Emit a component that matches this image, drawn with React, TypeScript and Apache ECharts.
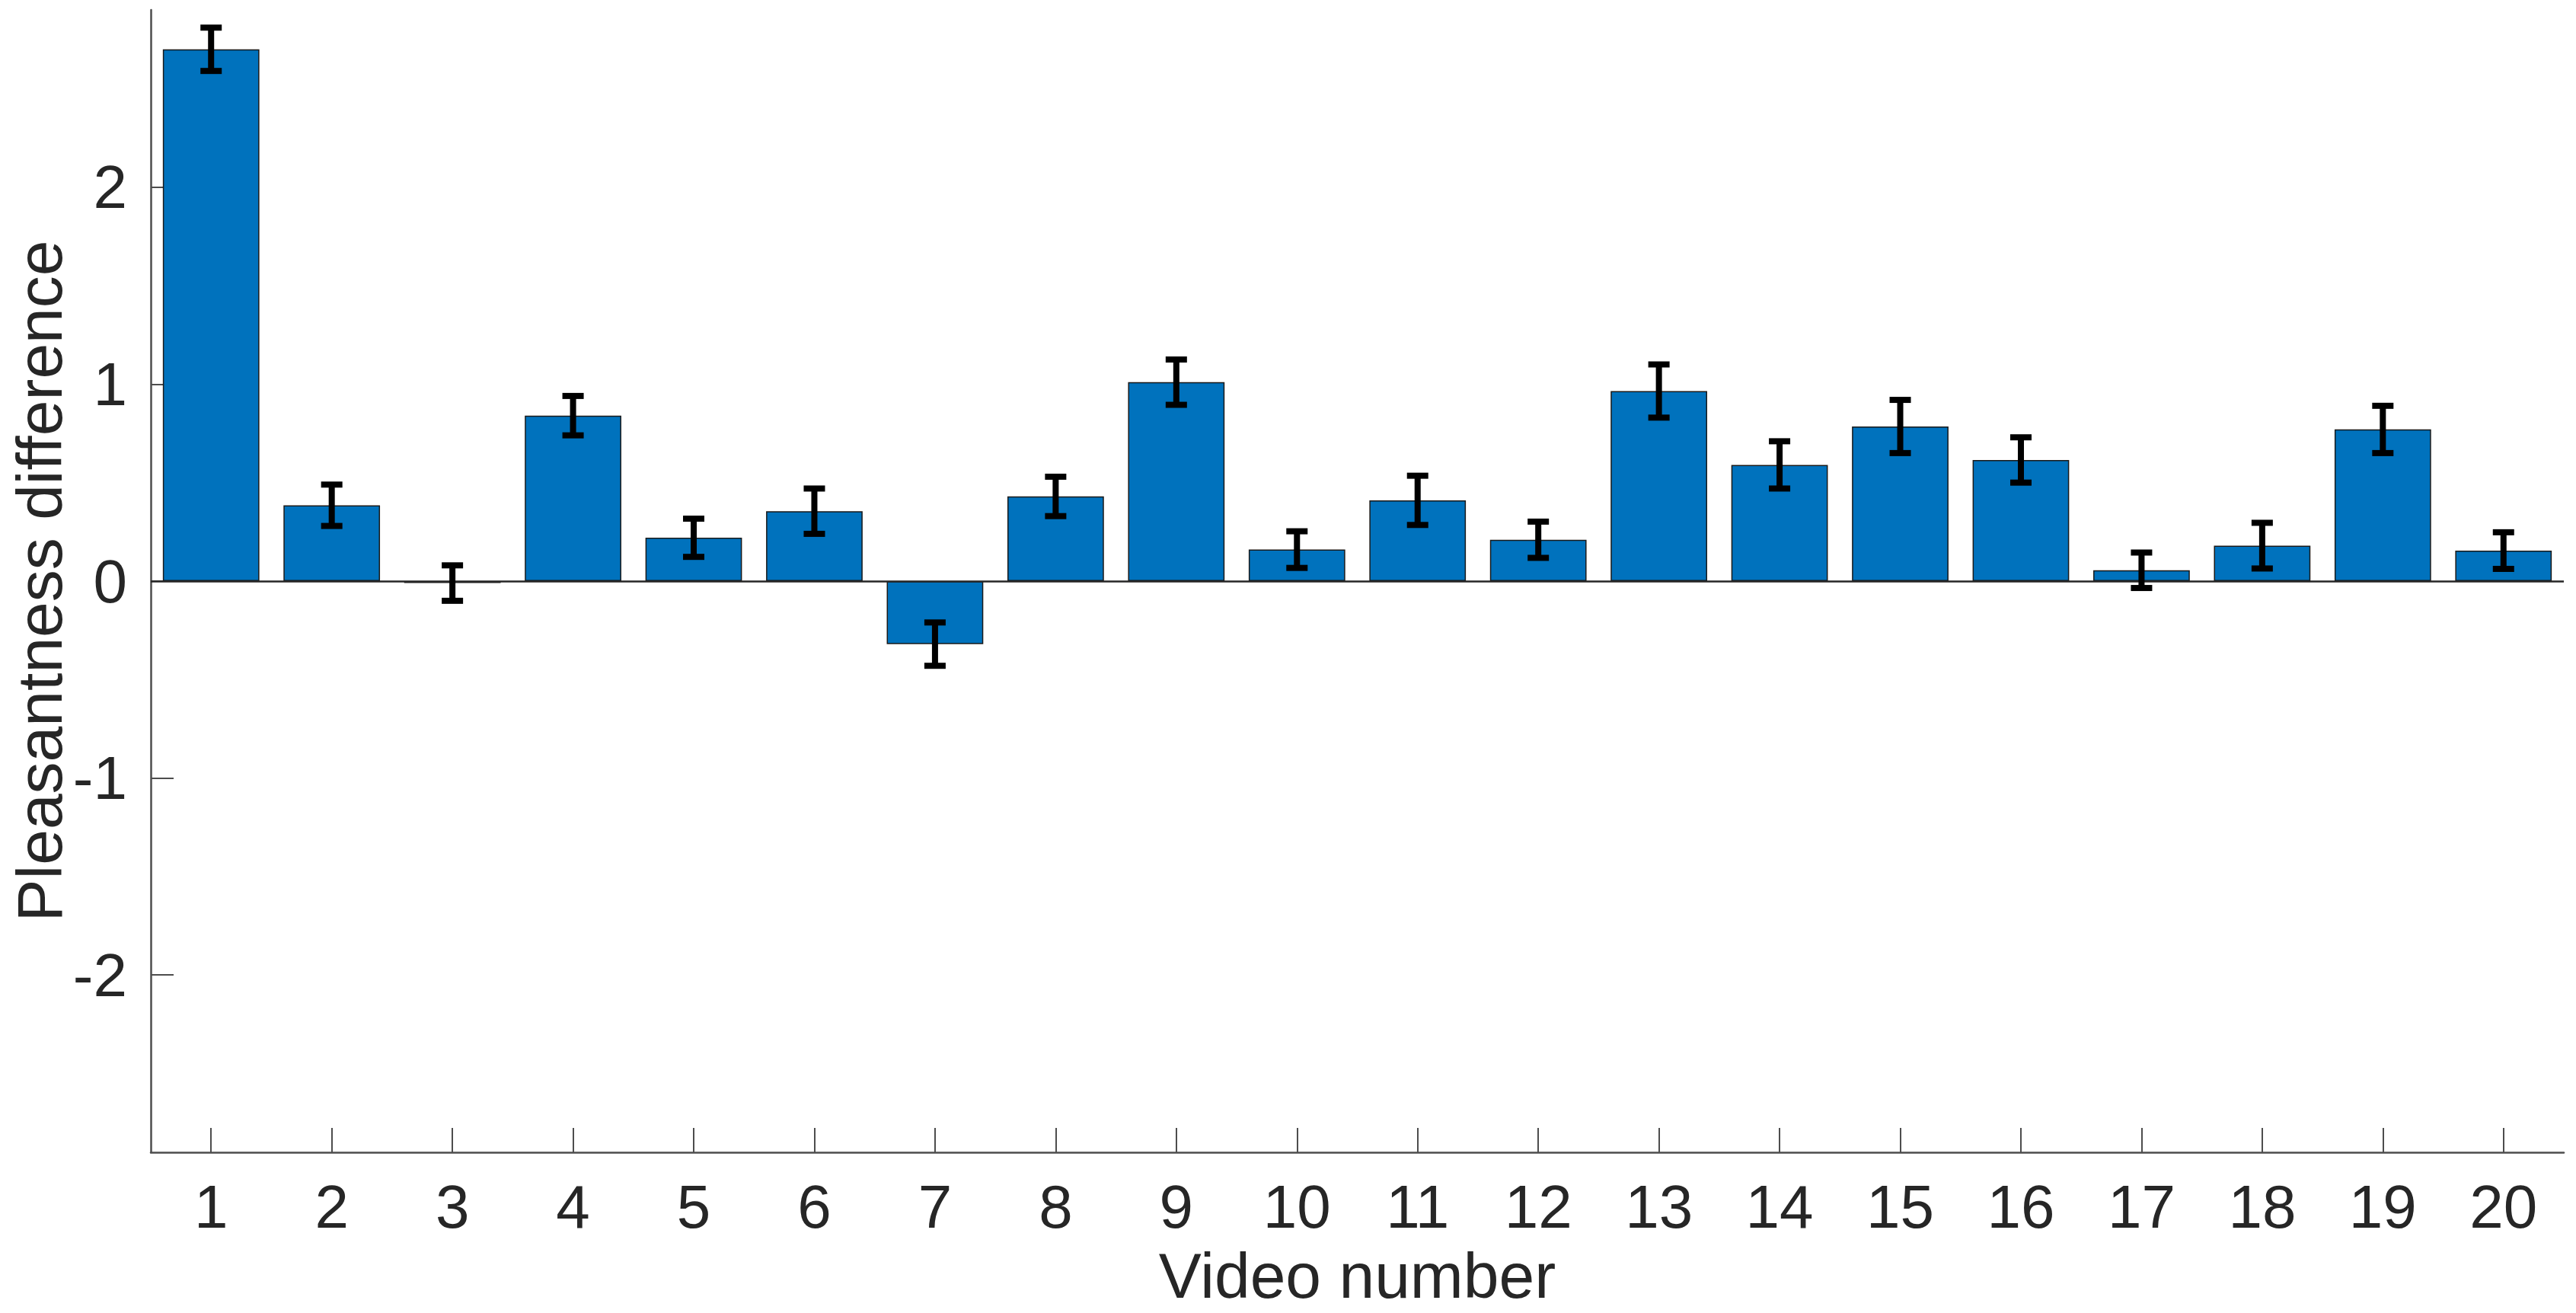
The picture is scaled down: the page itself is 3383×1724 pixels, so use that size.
import React, { useEffect, useRef } from "react";
import * as echarts from "echarts";

const videoNumbers = ["1","2","3","4","5","6","7","8","9","10","11","12","13","14","15","16","17","18","19","20"];
const meanDiff = [2.70, 0.385, -0.01, 0.84, 0.22, 0.355, -0.32, 0.43, 1.01, 0.16, 0.41, 0.21, 0.965, 0.59, 0.785, 0.615, 0.055, 0.18, 0.77, 0.155];
const errDiff = [0.11, 0.105, 0.09, 0.10, 0.097, 0.115, 0.11, 0.10, 0.115, 0.093, 0.125, 0.092, 0.135, 0.12, 0.135, 0.115, 0.09, 0.116, 0.12, 0.093];
const yTicks = [-2, -1, 0, 1, 2];
const yMin = -2.9;
const yMax = 2.9;

const FONT = "'Liberation Sans', Arial, Helvetica, sans-serif";
const TEXT = "#262626";
const AXIS = "#4d4d4d";

export default function App() {
  const ref = useRef<HTMLDivElement>(null);
  useEffect(() => {
    if (!ref.current) return;
    const chart = echarts.init(ref.current, undefined, { renderer: "svg" });
    const errData = meanDiff.map((m, i) => [i, m, errDiff[i]]);
    chart.setOption({
      animation: false,
      backgroundColor: "#ffffff",
      grid: { left: 198, right: 16, top: 13, bottom: 211, containLabel: false, outerBoundsMode: "none" },
      xAxis: {
        type: "category",
        data: videoNumbers,
        boundaryGap: true,
        name: "Video number",
        nameLocation: "middle",
        nameGap: 120,
        nameMoveOverlap: false,
        nameTextStyle: { fontFamily: FONT, fontSize: 84, lineHeight: 84, color: TEXT },
        axisLine: { onZero: false, lineStyle: { color: AXIS, width: 2.5 } },
        axisTick: { show: true, inside: true, alignWithLabel: true, length: 32, lineStyle: { color: AXIS, width: 2 } },
        axisLabel: { fontFamily: FONT, fontSize: 80, color: TEXT, margin: 31, interval: 0 },
        splitLine: { show: false },
      },
      yAxis: {
        type: "value",
        min: yMin,
        max: yMax,
        name: "Pleasantness difference",
        nameLocation: "middle",
        nameGap: 104,
        nameMoveOverlap: false,
        nameTextStyle: { fontFamily: FONT, fontSize: 84, lineHeight: 84, color: TEXT },
        axisLine: { show: true, lineStyle: { color: AXIS, width: 2.5 } },
        axisTick: { show: true, inside: true, length: 30, customValues: yTicks, lineStyle: { color: AXIS, width: 2 } },
        axisLabel: { fontFamily: FONT, fontSize: 80, color: TEXT, margin: 31, customValues: yTicks, formatter: (v: number) => String(v) },
        splitLine: { show: false },
      },
      series: [
        {
          type: "bar",
          data: meanDiff,
          barWidth: "80%",
          itemStyle: { color: "#0072BD", borderColor: "#1a1a1a", borderWidth: 1.5 },
          markLine: {
            silent: true,
            symbol: ["none", "none"],
            label: { show: false },
            lineStyle: { color: "#262626", width: 2.5, type: "solid" },
            data: [{ yAxis: 0 }],
          },
          z: 2,
        },
        {
          type: "custom",
          data: errData,
          z: 5,
          renderItem: (params: any, api: any) => {
            const idx = api.value(0);
            const m = api.value(1);
            const e = api.value(2);
            const top = api.coord([idx, m + e]);
            const bot = api.coord([idx, m - e]);
            const x = top[0];
            const hw = 14;
            const style = { stroke: "#000000", lineWidth: 8, fill: "none" };
            return {
              type: "group",
              children: [
                { type: "line", shape: { x1: x, y1: top[1], x2: x, y2: bot[1] }, style },
                { type: "line", shape: { x1: x - hw, y1: top[1], x2: x + hw, y2: top[1] }, style },
                { type: "line", shape: { x1: x - hw, y1: bot[1], x2: x + hw, y2: bot[1] }, style },
              ],
            };
          },
        },
      ],
    });
    return () => chart.dispose();
  }, []);
  return (
    <div
      ref={ref}
      style={{ position: "fixed", left: 0, top: 0, width: "100vw", height: "100vh", background: "#fff" }}
    />
  );
}
